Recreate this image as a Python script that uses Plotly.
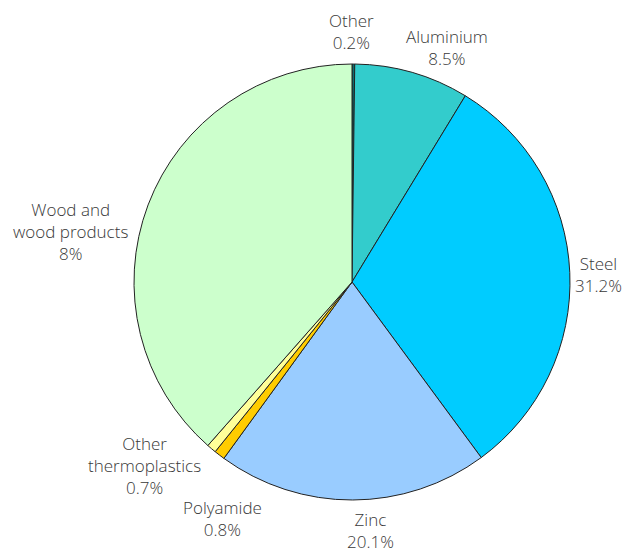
import plotly.graph_objects as go

categories = ["Other", "Aluminium", "Steel", "Zinc", "Polyamide",
              "Other thermoplastics", "Wood and wood products"]
label_text = ["Other", "Aluminium", "Steel", "Zinc", "Polyamide",
              "Other<br>thermoplastics", "Wood and<br>wood products"]
values = [0.2, 8.5, 31.2, 20.1, 0.8, 0.7, 38.5]
shown_pct = ["0.2%", "8.5%", "31.2%", "20.1%", "0.8%", "0.7%", "8%"]
colors = ["#0b6f6f", "#33cccc", "#00ccff", "#99ccff", "#ffcc00", "#ffff99", "#ccffcc"]

# page offset of the plot div inside the browser page
OFF = 8
# label placement (pixel centres of each text block, page coordinates)
label_pos = [(351, 32), (447, 47), (598, 275), (370, 530), (223, 518), (144, 465), (71, 231)]

W, H = 631, 553
cx, cy, r = 352 - OFF, 282 - OFF, 218

fig = go.Figure(go.Pie(
    labels=categories,
    values=values,
    textinfo="none",
    sort=False,
    direction="clockwise",
    rotation=0,
    marker=dict(colors=colors, line=dict(color="#222222", width=1)),
    domain=dict(x=[(cx - r) / W, (cx + r) / W], y=[1 - (cy + r) / H, 1 - (cy - r) / H]),
    showlegend=False,
    hoverinfo="label+percent",
))

for lab, pct, (px, py) in zip(label_text, shown_pct, label_pos):
    fig.add_annotation(
        x=(px - OFF) / W, y=1 - (py - OFF) / H, xref="paper", yref="paper",
        text=f"{lab}<br>{pct}", showarrow=False,
        xanchor="center", yanchor="middle", align="center",
        font=dict(family="Open Sans", size=17, color="#383838", weight=300),
    )

fig.update_layout(
    width=W, height=H,
    margin=dict(l=0, r=0, t=0, b=0),
    paper_bgcolor="white",
    plot_bgcolor="white",
)

fig.write_html("out.html")
